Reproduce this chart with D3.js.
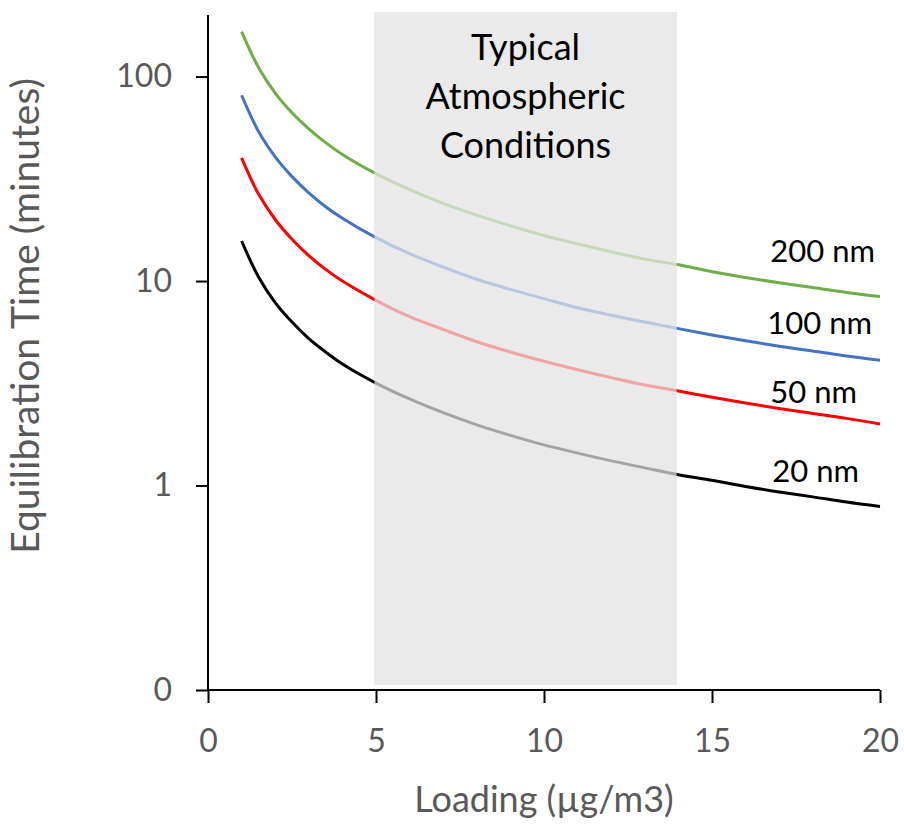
<!DOCTYPE html>
<html>
<head>
<meta charset="utf-8">
<script src="https://cdn.jsdelivr.net/npm/d3@7"></script>
<style>
  body { margin: 0; background: #fff; }
  text { font-family: Lato, "Open Sans", sans-serif; }
</style>
</head>
<body>
<div id="chart"></div>
<script>
//Data
const loading = [1, 1.5, 2, 2.5, 3, 3.5, 4, 5, 6, 7, 8, 9, 10, 11, 12, 13, 14, 15, 16, 17, 18, 19, 20];
const t200 = [166, 111, 83, 66.5, 55.5, 47.5, 41.6, 33.5, 28, 24, 21, 18.6, 16.7, 15.2, 13.9, 12.8, 12, 11.1, 10.4, 9.8, 9.3, 8.8, 8.4];
const t100 = [81, 54, 40.5, 32.4, 27, 23.1, 20.3, 16.3, 13.6, 11.7, 10.2, 9.1, 8.2, 7.4, 6.8, 6.3, 5.85, 5.45, 5.1, 4.8, 4.55, 4.3, 4.1];
const t50 = [40, 26.7, 20, 16, 13.3, 11.4, 10, 8.05, 6.7, 5.8, 5.05, 4.5, 4.05, 3.68, 3.37, 3.1, 2.9, 2.7, 2.53, 2.38, 2.25, 2.13, 2.0];
const t20 = [15.7, 10.5, 7.85, 6.3, 5.23, 4.5, 3.93, 3.17, 2.65, 2.27, 1.98, 1.76, 1.58, 1.44, 1.32, 1.22, 1.13, 1.06, 0.99, 0.93, 0.88, 0.83, 0.79];
const seriesNames = ["200 nm", "100 nm", "50 nm", "20 nm"];
const seriesColors = ["#70ad47", "#4472c4", "#ff0000", "#000000"];
const bandRange = [4.95, 13.95];
const xTicks = [0, 5, 10, 15, 20];
const yTicks = [0.1, 1, 10, 100];
const yTickLabels = ["0", "1", "10", "100"];
const bandText = ["Typical", "Atmospheric", "Conditions"];

//Label placement (pixel offsets from the end of each line)
const labelDx = [-5, -8, -23, -21];
const labelDy = [-35, -26, -21, -24];

//Set the dimensions and margins of the graph
const margin = {top: 15, right: 24, bottom: 134, left: 208},
    width = 904 - margin.left - margin.right,
    height = 824 - margin.top - margin.bottom;

const svg = d3.select("#chart")
    .append("svg")
    .attr("width", 904)
    .attr("height", 824)
    .append("g")
    .attr("transform", `translate(${margin.left}, ${margin.top})`);

//Scales
const x = d3.scaleLinear().domain([0, 20]).range([0, width]);
const y = d3.scaleLog().domain([0.1, 200]).range([height, 0]);

const series = [t200, t100, t50, t20].map((vals, i) => ({
    name: seriesNames[i],
    color: seriesColors[i],
    values: vals.map((v, j) => ({x: loading[j], y: v}))
}));

//Grey band behind the lines
svg.append("rect")
    .attr("x", x(bandRange[0]))
    .attr("y", -3)
    .attr("width", x(bandRange[1]) - x(bandRange[0]))
    .attr("height", height - 2)
    .attr("fill", "#e9e9e9");

//Lines
const line = d3.line()
    .x(d => x(d.x))
    .y(d => y(d.y))
    .curve(d3.curveCatmullRom.alpha(0.5));

svg.selectAll(".curve")
    .data(series)
    .join("path")
    .attr("class", "curve")
    .attr("d", d => line(d.values))
    .attr("fill", "none")
    .attr("stroke", d => d.color)
    .attr("stroke-width", 3);

//Fade the part of the lines inside the band
svg.append("rect")
    .attr("x", x(bandRange[0]))
    .attr("y", -3)
    .attr("width", x(bandRange[1]) - x(bandRange[0]))
    .attr("height", height - 2)
    .attr("fill", "#e9e9e9")
    .attr("opacity", 0.7);

//Band text
svg.append("text")
    .attr("text-anchor", "middle")
    .attr("font-size", "36px")
    .attr("fill", "#000")
    .selectAll("tspan")
    .data(bandText)
    .join("tspan")
    .attr("x", (x(bandRange[0]) + x(bandRange[1])) / 2)
    .attr("y", (d, i) => 45 + i * 49)
    .text(d => d);

//X axis
const xAxis = svg.append("g")
    .attr("transform", `translate(0, ${height})`)
    .call(d3.axisBottom(x).tickValues(xTicks).tickSize(13).tickPadding(26));

//Y axis
const yAxis = svg.append("g")
    .call(d3.axisLeft(y).tickValues(yTicks).tickFormat((d, i) => yTickLabels[i]).tickSize(12).tickPadding(24));

[xAxis, yAxis].forEach(a => {
    a.select(".domain").attr("stroke", "#000").attr("stroke-width", 2);
    a.selectAll(".tick line").attr("stroke", "#000").attr("stroke-width", 2);
    a.selectAll(".tick text")
        .attr("fill", "#595959")
        .style("font-family", "Lato, sans-serif")
        .style("font-size", "32px");
});
xAxis.select(".domain").attr("d", `M0,0H${width}`);
yAxis.select(".domain").attr("d", `M0,0V${height}`);

//Series labels
svg.selectAll(".label")
    .data(series)
    .join("text")
    .attr("class", "label")
    .attr("x", (d, i) => x(20) + labelDx[i])
    .attr("y", (d, i) => y(d.values[d.values.length - 1].y) + labelDy[i])
    .attr("text-anchor", "end")
    .attr("font-size", "31px")
    .attr("fill", "#000")
    .text(d => d.name);

//Axis titles
svg.append("text")
    .attr("x", width / 2)
    .attr("y", height + 122)
    .attr("text-anchor", "middle")
    .attr("font-size", "36px")
    .attr("fill", "#595959")
    .text("Loading (µg/m3)");

svg.append("text")
    .attr("transform", `translate(${-169}, ${316 - margin.top}) rotate(-90)`)
    .attr("text-anchor", "middle")
    .attr("font-size", "39px")
    .attr("fill", "#595959")
    .text("Equilibration Time (minutes)");
</script>
</body>
</html>
